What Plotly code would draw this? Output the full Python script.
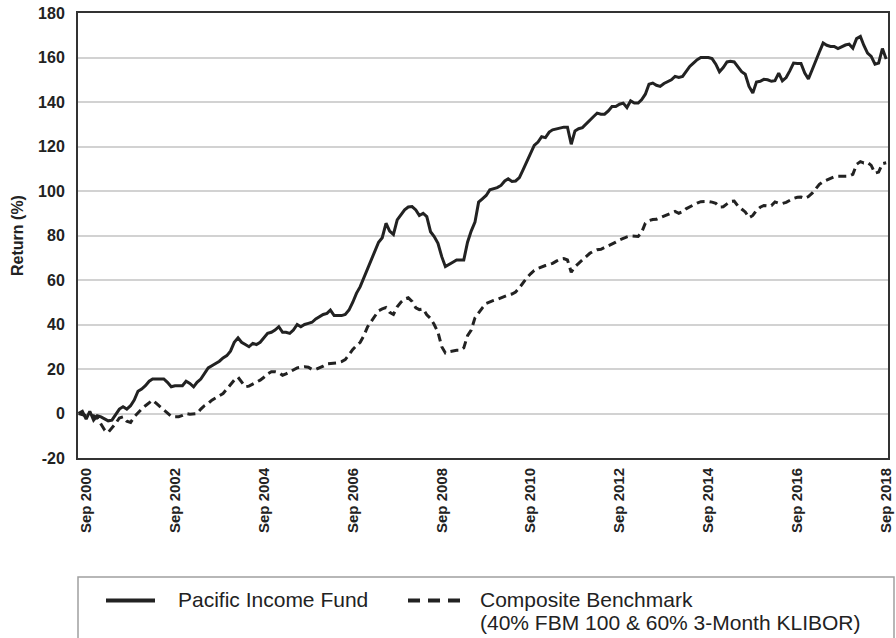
import plotly.graph_objects as go
import pandas as pd

# Monthly dates: Jul 2000 .. Sep 2018
dates = pd.date_range("2000-07-01", "2018-09-01", freq="MS")

fund_name = "Pacific Income Fund"
bench_name = "Composite Benchmark"
bench_sub = "(40% FBM 100 & 60% 3-Month KLIBOR)"

fund = [
    0, 1, -2.5, 1, -3, -1, -1.5, -2.5, -3.3, -3, -0.5, 2,
    3, 2, 3.5, 6, 10, 11, 12.5, 14.5, 15.5, 15.5, 15.5, 15.5,
    14, 12, 12.5, 12.5, 12.5, 14.5, 13.5, 12, 14, 15.5, 18, 20.5,
    21.5, 22.5, 23.5, 25, 26, 28, 32, 34, 32, 31, 30, 31.5,
    31, 32, 34, 36, 36.5, 37.5, 39, 36.5, 36.5, 36, 37.5, 40,
    39, 40, 40.5, 41, 42.5, 43.5, 44.5, 45, 46.5, 44, 44, 44,
    44.5, 46.5, 50, 54, 57, 61, 65, 69, 73.5, 77, 79, 85.5,
    82, 80.5, 87, 89, 91.5, 92.8, 93, 91.5, 89, 90, 88.5, 81.7,
    79.5, 76.5, 70.5, 66, 67.2, 68, 69, 69, 69, 77, 82, 86,
    95, 96.5, 98, 100.5, 101, 101.5, 102.5, 104.5, 105.5, 104.3, 104.5, 106,
    109.5, 113, 117, 120.5, 122, 124.4, 124, 126.5, 127.5, 128, 128.3, 128.7,
    128.7, 121, 127, 128, 128.5, 130, 132, 133.5, 135, 134.5, 134.5, 136,
    138, 138, 139, 139.5, 137.5, 140.5, 139.5, 139.5, 141, 143.5, 148, 148.5,
    147.5, 147, 148.3, 149.3, 150, 151.5, 151, 151.5, 153.6, 156, 157.5, 159,
    160, 160, 160, 159.5, 157, 153.6, 155.5, 158, 158.3, 158, 156, 153.6,
    152.5, 147, 144, 149, 149.3, 150.2, 150, 149.3, 149.6, 153, 149.5, 151,
    154, 157.5, 157.3, 157.3, 153, 150.4, 154.5, 159, 162.5, 166.5, 165.5, 165,
    165, 164, 165, 165.6, 166, 164.2, 168.5, 169.5, 165.5, 162, 160.5, 157,
    157.5, 164, 159.3,
]

bench = [
    0, -0.5, -1, -1, -1, -2, -4.5, -7.5, -8.5, -6.5, -4.5, -2,
    -1.5, -3.5, -4, -1.5, 0.5, 2, 3.5, 4.8, 6, 4.5, 3, 1.5,
    0, -1.2, -1.5, -1.5, -0.8, 0, -0.3, -0.3, 0, 2, 3.5, 4.5,
    6, 7, 8, 9, 11, 13, 15, 16.3, 14, 12, 12.3, 13.2,
    14.3, 15, 16.3, 17.8, 18.8, 18.8, 18.4, 17.2, 17.8, 18.8, 19.6, 20.5,
    20.8, 21, 20.8, 19.8, 19.8, 20.4, 21.3, 22.3, 22.4, 22.6, 22.8, 23.3,
    24.2, 26.4, 28.8, 30.5, 32, 35, 39, 41.5, 44, 46.2, 47, 47.6,
    45.5, 44.5, 48, 50, 51.5, 52, 50.4, 47.5, 46.7, 47, 44.4, 42.7,
    40, 36.5, 30, 27.2, 27.8, 28.2, 28.4, 28.4, 29.5, 35, 37.5, 43,
    45.5, 47.5, 49.5, 50.3, 50.8, 51.3, 52, 52.8, 53.3, 53.7, 54.6, 56.5,
    59, 61, 62.8, 64.3, 65.2, 66, 66.5, 67, 67.5, 68.5, 69.3, 69.6,
    69, 63.5, 66, 67.5, 69, 70.5, 72, 73, 73.6, 73.8, 74.5, 75.3,
    76, 77, 78, 78.8, 79.4, 79.8, 79.8, 79.6, 81.3, 85.5, 86.7, 87.2,
    87.3, 88, 88.6, 89.2, 90, 90.8, 90, 90.7, 92, 93, 93.8, 94.6,
    95.2, 95.3, 95.3, 95, 94.5, 92.8, 92.9, 94.2, 95.3, 95.5, 93.3, 91.9,
    90.6, 88, 89, 91.3, 92.7, 93.5, 93.3, 93.5, 95.1, 94.5, 94.4, 94.9,
    95.8, 96.7, 97.2, 97.3, 96.7, 97.5, 99, 101.4, 103, 104.2, 105, 105.8,
    106.4, 106.6, 106.6, 106.6, 106.7, 107.5, 112, 113.2, 112.6, 112.8, 111.5, 108,
    108.5, 112.3, 112.7,
]

tick_dates = ["2000-09-01", "2002-09-01", "2004-09-01", "2006-09-01", "2008-09-01",
              "2010-09-01", "2012-09-01", "2014-09-01", "2016-09-01", "2018-09-01"]
tick_labels = ["Sep 2000", "Sep 2002", "Sep 2004", "Sep 2006", "Sep 2008",
               "Sep 2010", "Sep 2012", "Sep 2014", "Sep 2016", "Sep 2018"]
y_ticks = [-20, 0, 20, 40, 60, 80, 100, 120, 140, 160, 180]
y_labels = ["-20", "0", "20", "40", "60", "80", "100", "120", "140", "160", "180"]

assert len(fund) == len(dates) == len(bench)

INK = "#222222"
FONT = "Liberation Sans, Arial, sans-serif"

fig = go.Figure()
fig.add_trace(go.Scatter(x=dates, y=fund, mode="lines", name=fund_name,
                         line=dict(color=INK, width=3), showlegend=False))
fig.add_trace(go.Scatter(x=dates, y=bench, mode="lines", name=bench_name,
                         line=dict(color=INK, width=3, dash="8px,5px"), showlegend=False))

# plot area in window pixels: left 78, right 888, top 13, bottom 458
L, R, T, B = 78, 888, 13, 458
W, H = 896, 638

def px(xp):
    return (xp - L) / (R - L)
def py(yp):
    return (B - yp) / (B - T)

fig.update_layout(
    width=W, height=H,
    margin=dict(l=L, r=W - R, t=T, b=H - B),
    paper_bgcolor="white", plot_bgcolor="white",
    font=dict(family=FONT, color=INK),
    xaxis=dict(
        type="date", range=["2000-06-26", "2018-09-16"],
        tickmode="array", tickvals=tick_dates, ticktext=tick_labels,
        tickangle=-90, tickfont=dict(size=15, weight="bold", color=INK),
        showgrid=False, showline=True, mirror=True, linecolor="#333333", linewidth=2,
        ticks="", ticklabelstandoff=2, zeroline=False, automargin=False,
    ),
    yaxis=dict(
        range=[-20, 180], tickmode="array", tickvals=y_ticks, ticktext=y_labels,
        tickfont=dict(size=16, weight="bold", color=INK),
        showgrid=True, gridcolor="#d2d2d2", gridwidth=1.5,
        showline=True, mirror=True, linecolor="#333333", linewidth=2,
        ticks="", ticklabelstandoff=8, zeroline=False, automargin=False,
        title=dict(text="Return (%)", font=dict(size=16, weight="bold", color=INK), standoff=10),
    ),
    showlegend=False,
)

# Legend box and entries
fig.add_shape(type="rect", xref="paper", yref="paper",
              x0=px(78), x1=px(894), y0=py(577), y1=py(645),
              line=dict(color="#a0a0a0", width=1.5), fillcolor="rgba(0,0,0,0)")
fig.add_shape(type="line", xref="paper", yref="paper",
              x0=px(106), x1=px(155), y0=py(600.5), y1=py(600.5),
              line=dict(color=INK, width=4))
fig.add_shape(type="line", xref="paper", yref="paper",
              x0=px(408), x1=px(460), y0=py(600.5), y1=py(600.5),
              line=dict(color=INK, width=4, dash="12px,8px"))
fig.add_annotation(xref="paper", yref="paper", x=px(176), y=py(599),
                   text=fund_name, showarrow=False, xanchor="left", yanchor="middle",
                   font=dict(size=21, color=INK, family=FONT))
fig.add_annotation(xref="paper", yref="paper", x=px(478), y=py(599),
                   text=bench_name, showarrow=False, xanchor="left", yanchor="middle",
                   font=dict(size=21, color=INK, family=FONT))
fig.add_annotation(xref="paper", yref="paper", x=px(478), y=py(622),
                   text=bench_sub, showarrow=False, xanchor="left", yanchor="middle",
                   font=dict(size=21, color=INK, family=FONT))

# Remove the default page margin so the figure fills the window exactly.
page_fix = ("document.documentElement.style.margin='0';"
            "document.documentElement.style.overflow='hidden';"
            "document.body.style.margin='0';"
            "document.body.style.overflow='hidden';")

fig.write_html("out.html", post_script=page_fix, config={"displayModeBar": False})
